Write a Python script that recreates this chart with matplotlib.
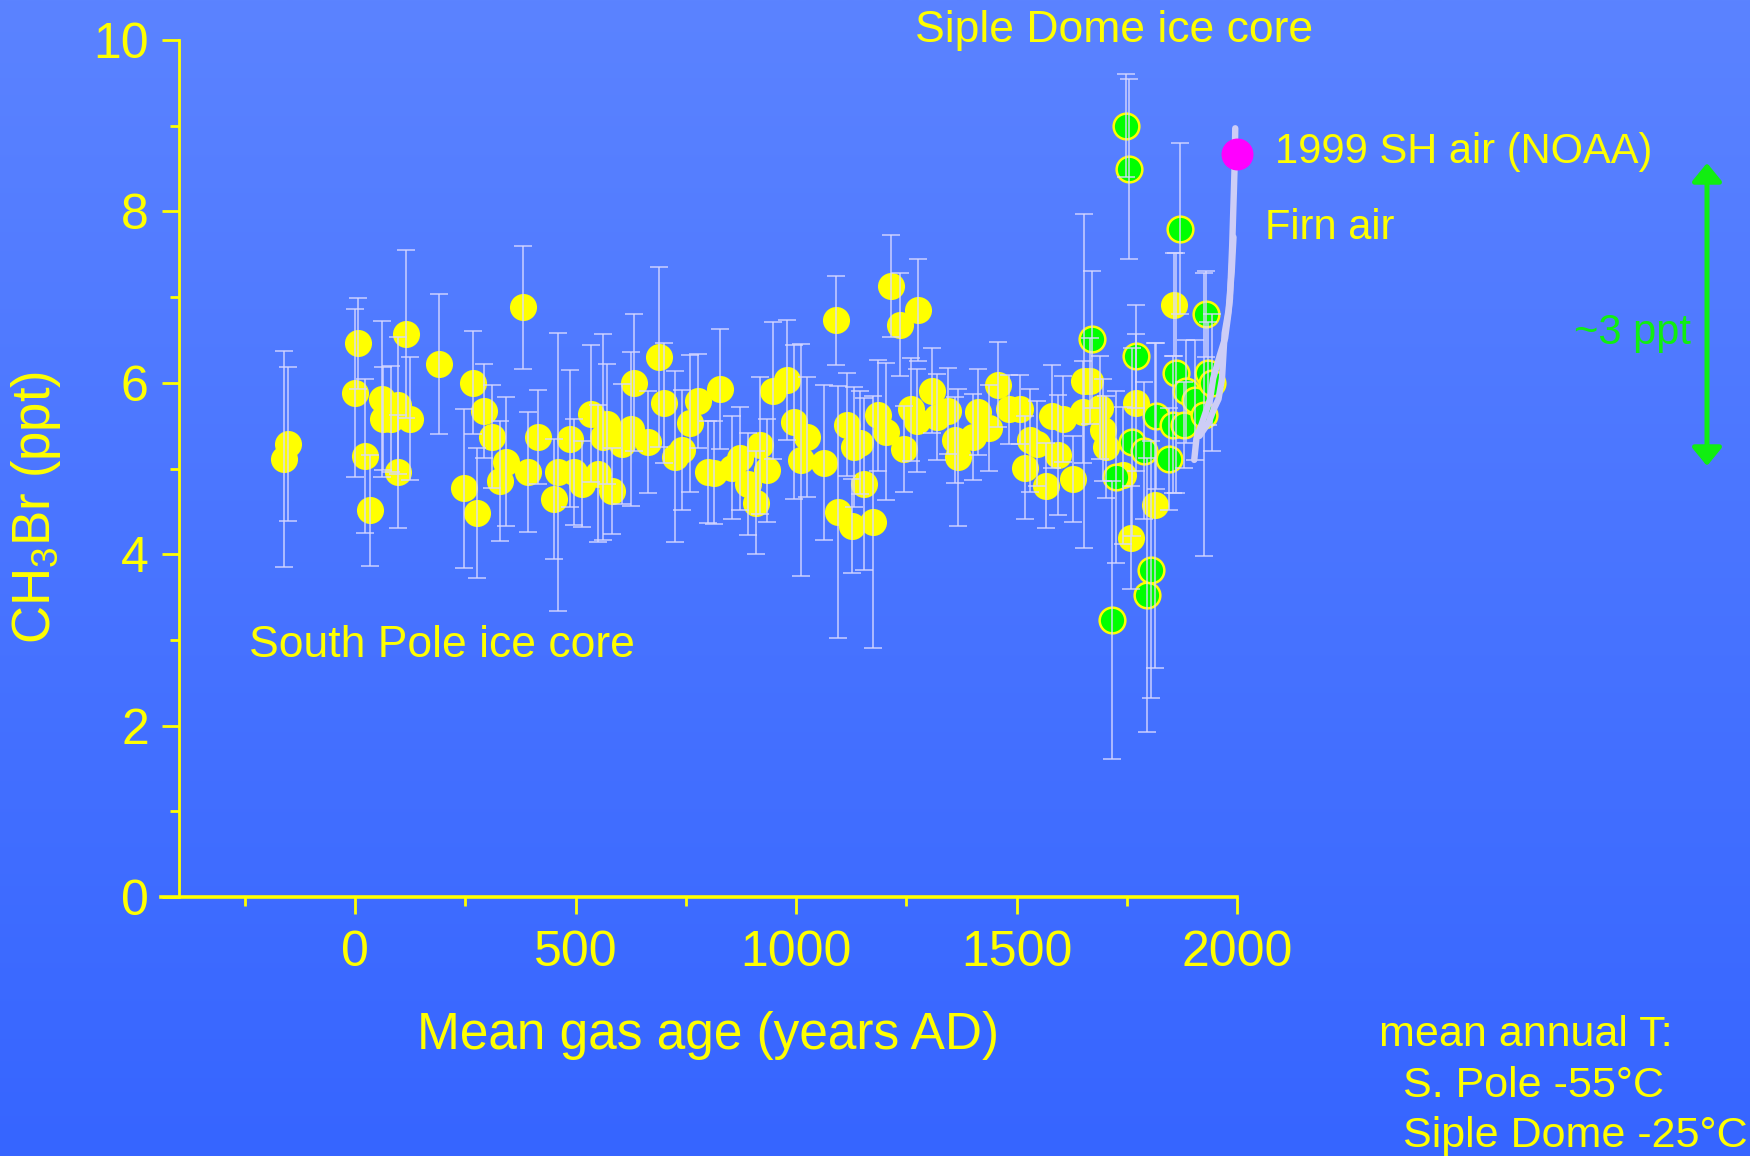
import numpy as np
import matplotlib
matplotlib.use("Agg")
import matplotlib.pyplot as plt
from matplotlib.patches import FancyArrowPatch

plt.rcParams['font.family'] = ['Liberation Sans', 'DejaVu Sans']
plt.rcParams['mathtext.fontset'] = 'custom'
plt.rcParams['mathtext.rm'] = 'Liberation Sans'
plt.rcParams['mathtext.it'] = 'Liberation Sans:italic'

# ---- South Pole ice core (mean gas age AD, CH3Br ppt, 1-sigma) ----
sp_age = [-162, -153, 0, 6, 22, 34, 62, 64, 81, 98, 98, 116, 125, 190, 246, 268,
          277, 292, 310, 329, 342, 380, 393, 416, 451, 461, 488, 497, 514, 534,
          552, 563, 571, 583, 605, 625, 633, 665, 690, 701, 726, 741, 760, 778,
          801, 814, 828, 854, 873, 892, 909, 918, 934, 947, 979, 995, 1011, 1024,
          1063, 1091, 1096, 1116, 1128, 1132, 1146, 1155, 1175, 1187, 1203, 1215,
          1236, 1246, 1260, 1274, 1276, 1308, 1320, 1345, 1361, 1368, 1402, 1413,
          1438, 1459, 1484, 1508, 1519, 1531, 1546, 1567, 1580, 1593, 1606, 1627,
          1650, 1652, 1666, 1690, 1695, 1704, 1742, 1760, 1771, 1814, 1857]
sp_ch3br = [5.11, 5.29, 5.88, 6.46, 5.15, 4.51, 5.81, 5.58, 5.58, 5.74, 4.96, 6.57,
            5.58, 6.22, 4.77, 6.00, 4.48, 5.67, 5.37, 4.85, 5.08, 6.88, 4.96, 5.37,
            4.64, 4.96, 5.35, 4.96, 4.82, 5.64, 4.94, 5.37, 5.52, 4.74, 5.29, 5.46,
            6.00, 5.31, 6.30, 5.77, 5.14, 5.22, 5.53, 5.79, 4.96, 4.95, 5.93, 5.01,
            5.12, 4.82, 4.60, 5.27, 4.98, 5.91, 6.03, 5.54, 5.10, 5.37, 5.07, 6.73,
            4.49, 5.51, 4.33, 5.25, 5.30, 4.82, 4.38, 5.62, 5.43, 7.13, 6.68, 5.23,
            5.69, 5.56, 6.85, 5.91, 5.60, 5.67, 5.33, 5.13, 5.37, 5.66, 5.47, 5.98,
            5.69, 5.69, 5.01, 5.33, 5.29, 4.80, 5.61, 5.16, 5.58, 4.88, 5.66, 6.02,
            6.02, 5.71, 5.45, 5.25, 4.92, 4.19, 5.77, 4.57, 6.91]
sp_err = [1.26, 0.90, 0.98, 0.53, 0.90, 0.65, 0.91, 0.60, 0.62, 0.80, 0.66, 0.98,
          0.72, 0.82, 0.93, 0.60, 0.76, 0.55, 0.60, 0.70, 0.75, 0.72, 0.70, 0.55,
          0.70, 1.62, 0.80, 0.62, 0.50, 0.80, 0.80, 1.20, 0.70, 0.50, 0.70, 0.90,
          0.80, 0.60, 1.05, 0.70, 1.00, 0.70, 0.80, 0.55, 0.60, 0.60, 0.70, 0.60,
          0.60, 0.60, 0.60, 0.80, 0.60, 0.80, 0.70, 0.90, 1.35, 0.70, 0.90, 0.52,
          1.47, 0.60, 0.55, 0.70, 0.60, 1.00, 1.47, 0.65, 0.80, 0.60, 0.60, 0.50,
          0.60, 0.60, 0.60, 0.50, 0.50, 0.50, 0.50, 0.80, 0.50, 0.50, 0.50, 0.50,
          0.40, 0.40, 0.60, 0.60, 0.50, 0.50, 0.60, 0.70, 0.50, 0.50, 0.60, 1.95,
          0.50, 0.60, 0.60, 0.60, 0.80, 0.60, 0.80, 1.90, 0.60]

# ---- Siple Dome ice core ----
sd_age = [1672, 1717, 1725, 1748, 1756, 1763, 1771, 1789, 1797, 1806, 1816,
          1846, 1854, 1862, 1871, 1880, 1884, 1905, 1925, 1929, 1935, 1944]
sd_ch3br = [6.51, 3.23, 4.90, 9.00, 8.50, 5.31, 6.31, 5.21, 3.52, 3.82, 5.61,
            5.11, 5.51, 6.11, 7.80, 5.51, 5.90, 5.80, 5.63, 6.80, 6.11, 6.00]
sd_err = [0.80, 1.62, 1.00, 0.60, 1.05, 1.10, 0.60, 0.80, 1.60, 1.50, 0.85,
          0.60, 0.80, 1.40, 1.00, 0.50, 0.60, 0.70, 1.65, 0.50, 0.60, 0.80]

# ---- Firn air reconstruction (two model tracks) ----
firn_a_age = [1903, 1908, 1920, 1939, 1946, 1961, 1973, 1980, 1984, 1989, 1993, 1995, 1996]
firn_a_ch3br = [5.10, 5.35, 5.52, 5.81, 6.05, 6.32, 6.52, 6.79, 6.98, 7.59, 8.25, 8.60, 8.97]
firn_b_age = [1915, 1936, 1948, 1958, 1966, 1972, 1981, 1988, 1992]
firn_b_ch3br = [5.38, 5.54, 5.70, 5.81, 6.05, 6.58, 6.85, 7.30, 7.70]

# ---- 1999 Southern Hemisphere air (NOAA) ----
noaa_year = [1999]
noaa_ch3br = [8.67]

xticks_major = [0, 500, 1000, 1500, 2000]
xticks_minor = [-250, 250, 750, 1250, 1750]
yticks_major = [0, 2, 4, 6, 8, 10]
yticks_minor = [1, 3, 5, 7, 9]

YEL = '#FFFF00'
GRN = '#00FF00'
BAR = '#D8D8FF'
FIRN = '#CDCDF6'

W, H = 1750, 1156
fig = plt.figure(figsize=(W / 100, H / 100), dpi=100)

# vertical blue gradient behind everything
bg = fig.add_axes([0, 0, 1, 1], zorder=-10)
c_top = np.array([91, 131, 255]) / 255
c_bot = np.array([54, 101, 255]) / 255
t = np.linspace(0, 1, 512)[:, None, None]
img = c_top[None, None, :] * (1 - t) + c_bot[None, None, :] * t
bg.imshow(img, aspect='auto', extent=[0, 1, 0, 1], interpolation='bilinear')
bg.axis('off')

ax = fig.add_axes([161 / W, 1 - 897 / H, (1237 - 161) / W, (897 - 40) / H])
ax.patch.set_visible(False)
ax.set_xlim(-440, 2000)
ax.set_ylim(0, 10)

for s in ('top', 'right'):
    ax.spines[s].set_visible(False)
ax.spines['left'].set_position(('data', -400))
ax.spines['left'].set_color(YEL)
ax.spines['left'].set_linewidth(2.0)
ax.spines['bottom'].set_color(YEL)
ax.spines['bottom'].set_linewidth(2.6)

ax.set_xticks(xticks_major)
ax.set_xticks(xticks_minor, minor=True)
ax.set_yticks(yticks_major)
ax.set_yticks(yticks_minor, minor=True)
ax.tick_params(which='both', colors=YEL, width=2)
ax.tick_params(which='major', length=12.5, labelsize=36)
ax.tick_params(which='minor', length=6.5)
ax.tick_params(axis='x', which='major', pad=11)
ax.tick_params(axis='y', which='major', pad=9)

# data points
ax.plot(sp_age, sp_ch3br, 'o', ms=19.5, mfc=YEL, mec=YEL, mew=0, zorder=2, clip_on=False)
ax.plot(sd_age, sd_ch3br, 'o', ms=18.5, mfc=GRN, mec=YEL, mew=1.8, zorder=3, clip_on=False)
ax.errorbar(sp_age, sp_ch3br, yerr=sp_err, fmt='none', ecolor=BAR, elinewidth=1.1,
            capsize=6.5, capthick=1.1, alpha=0.9, zorder=4)
ax.errorbar(sd_age, sd_ch3br, yerr=sd_err, fmt='none', ecolor=BAR, elinewidth=1.1,
            capsize=6.5, capthick=1.1, alpha=0.9, zorder=4)

ax.plot(firn_a_age, firn_a_ch3br, color=FIRN, lw=4.6, solid_capstyle='round',
        solid_joinstyle='round', zorder=5, clip_on=False)
ax.plot(firn_b_age, firn_b_ch3br, color=FIRN, lw=4.6, solid_capstyle='round',
        solid_joinstyle='round', zorder=5, clip_on=False)
ax.plot(noaa_year, noaa_ch3br, 'o', ms=22, mfc='#FF00FF', mec='#FF00FF', zorder=6,
        clip_on=False)

# axis labels
fig.text(36 / W, 1 - 507 / H, 'CH$_{\\mathrm{3}}$Br (ppt)', rotation=90, ha='center',
         va='center', size=38, color=YEL)
fig.text(708 / W, 1 - 1049 / H, 'Mean gas age (years AD)', ha='center', va='baseline',
         size=37, color=YEL)

# annotations
fig.text(915 / W, 1 - 42 / H, 'Siple Dome ice core', ha='left', va='baseline', size=32, color=YEL)
fig.text(249 / W, 1 - 657 / H, 'South Pole ice core', ha='left', va='baseline', size=32, color=YEL)
fig.text(1275 / W, 1 - 163 / H, '1999 SH air (NOAA)', ha='left', va='baseline', size=30, color=YEL)
fig.text(1265 / W, 1 - 239 / H, 'Firn air', ha='left', va='baseline', size=30, color=YEL)
fig.text(1691 / W, 1 - 344 / H, '~3 ppt', ha='right', va='baseline', size=30, color='#11EE11')
fig.text(1379 / W, 1 - 1046 / H, 'mean annual T:', ha='left', va='baseline', size=31, color=YEL)
fig.text(1403 / W, 1 - 1097 / H, 'S. Pole -55°C', ha='left', va='baseline', size=31, color=YEL)
fig.text(1403 / W, 1 - 1147 / H, 'Siple Dome -25°C', ha='left', va='baseline', size=31, color=YEL)

arrow = FancyArrowPatch(posA=(1707 / W, 1 - 466 / H), posB=(1707 / W, 1 - 163 / H),
                        transform=fig.transFigure,
                        arrowstyle='<|-|>,head_length=0.55,head_width=0.45',
                        mutation_scale=20, color='#11EE11', lw=3.6,
                        shrinkA=0, shrinkB=0)
fig.add_artist(arrow)

fig.savefig('out.png', dpi=100)
